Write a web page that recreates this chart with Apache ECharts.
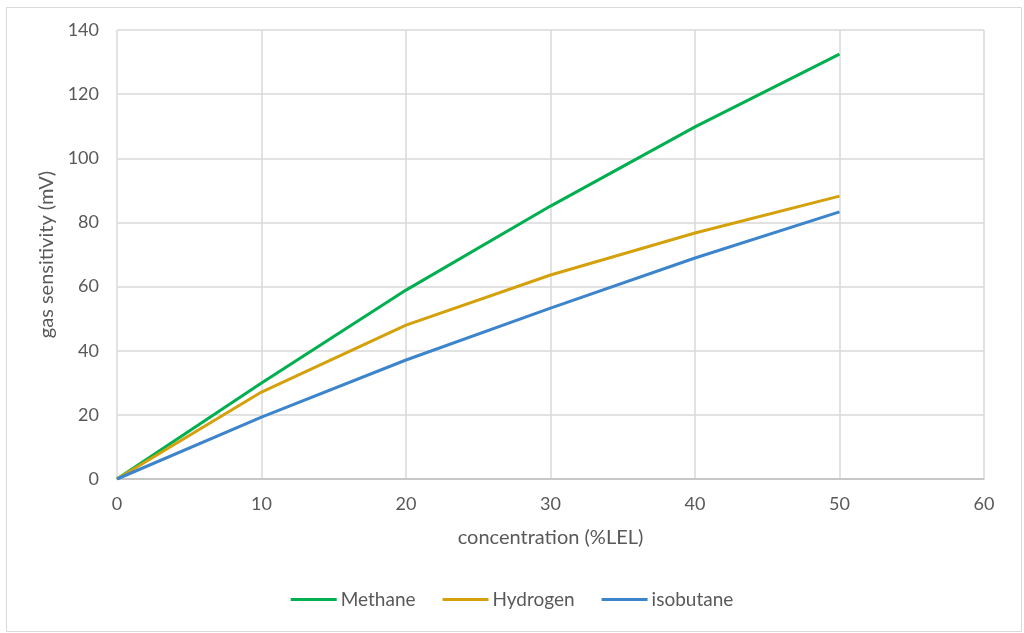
<!DOCTYPE html>
<html>
<head>
<meta charset="utf-8">
<script src="https://cdn.jsdelivr.net/npm/echarts@6/dist/echarts.min.js"></script>
<style>html,body{margin:0;padding:0;background:#fff}#c{width:1024px;height:633px}</style>
</head>
<body>
<div id="c"></div>
<script>
const concentration = [0, 10, 20, 30, 40, 50];
const methane = [0, 29.9, 58.9, 85.1, 109.8, 132.5];
const hydrogen = [0, 27.1, 48.0, 63.6, 76.7, 88.2];
const isobutane = [0, 19.3, 37.1, 53.3, 68.9, 83.3];
const seriesNames = ['Methane', 'Hydrogen', 'isobutane'];
const colors = ['#00B050', '#D4A10C', '#3C85CC'];

const font = 'Lato, "Open Sans", sans-serif';
const chart = echarts.init(document.getElementById('c'));
const toPairs = arr => concentration.map((x, i) => [x, arr[i]]);
const datasets = [methane, hydrogen, isobutane];

chart.setOption({
  backgroundColor: '#fff',
  animation: false,
  graphic: [{
    type: 'rect', left: 4, top: 5, shape: {width: 1015, height: 624},
    style: {fill: 'none', stroke: '#d9d9d9', lineWidth: 1}, silent: true
  }],
  grid: {left: 117, right: 40, top: 30, bottom: 154, containLabel: false},
  legend: {
    top: 585, left: 'center', itemWidth: 46, itemHeight: 3, itemGap: 27,
    icon: 'rect',
    textStyle: {color: '#595959', fontSize: 19, fontFamily: font, padding: [0, 0, 0, -1]},
    data: seriesNames
  },
  xAxis: {
    type: 'value', min: 0, max: 60, interval: 10,
    name: 'concentration (%LEL)', nameLocation: 'middle', nameGap: 49,
    nameTextStyle: {color: '#595959', fontSize: 20, fontFamily: font},
    axisLine: {show: true, lineStyle: {color: '#bfbfbf', width: 1.5}},
    axisTick: {show: false},
    axisLabel: {color: '#595959', fontSize: 18, fontFamily: font, margin: 16},
    splitLine: {show: true, lineStyle: {color: '#d9d9d9', width: 1.5}}
  },
  yAxis: {
    type: 'value', min: 0, max: 140, interval: 20,
    name: 'gas sensitivity (mV)', nameLocation: 'middle', nameGap: 57, nameRotate: 90,
    nameTextStyle: {color: '#595959', fontSize: 20, fontFamily: font},
    axisLine: {show: false},
    axisTick: {show: false},
    axisLabel: {color: '#595959', fontSize: 18, fontFamily: font, margin: 18},
    splitLine: {show: true, lineStyle: {color: '#d9d9d9', width: 1.5}}
  },
  series: seriesNames.map((n, i) => ({
    name: n, type: 'line', data: toPairs(datasets[i]),
    showSymbol: false, symbol: 'none',
    lineStyle: {color: colors[i], width: 3},
    itemStyle: {color: colors[i]}
  }))
});
</script>
</body>
</html>
